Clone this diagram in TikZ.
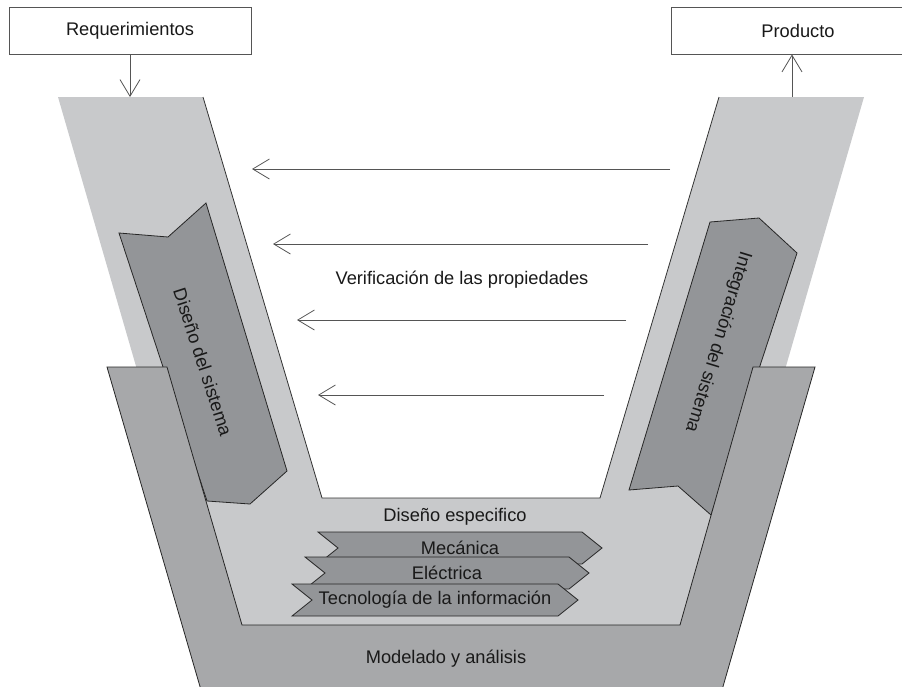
\documentclass[tikz,border=0pt]{standalone}
\usepackage{fontspec}
\setmainfont{Liberation Sans}
\usetikzlibrary{arrows.meta}
\definecolor{vclaro}{RGB}{200,201,203}
\definecolor{vmedio}{RGB}{167,168,170}
\definecolor{voscuro}{RGB}{147,149,152}
\definecolor{vlinea}{RGB}{85,85,85}
\tikzstyle{rotulo} = [font=\fontsize{13.7}{16}\selectfont, text=black!90, inner sep=0pt]
\tikzstyle{caja} = [rotulo, draw=vlinea, fill=white, line width=0.7pt, minimum height=35.25pt]
\tikzstyle{flecha} = [draw=vlinea, line width=0.6pt, -{Straight Barb[length=12.5pt,width=15pt]}]
\tikzstyle{pieza} = [draw=black!85, fill=voscuro, line width=0.6pt]
\newcommand{\banda}[5]{\draw[pieza] (#2,#3) -- (#4,#3) -- (#4+20,#3+16) -- (#4,#3+32) -- (#2,#3+32) -- (#2+20,#3+16) -- cycle;%
	\node[rotulo] (#1) at ({(#2+#4+20)/2},#3+16) {#5};}

\begin{document}
\begin{tikzpicture}[x=0.75pt, y=-0.75pt]%
			\useasboundingbox (0,0) rectangle (902,686);%
			\clip (0,0) rectangle (902,686);%
			% brazos y fondo claro
			\fill[vclaro] (58,97) -- (203,97) -- (322,498) -- (600,498) -- (719,97) -- (864,97) -- (711,625) -- (211,625) -- cycle;%
			\draw[black!80, line width=0.6pt] (203,97) -- (322,498) -- (600,498) -- (719,97);%
			% diseno e integracion
			\draw[pieza] (119,233) -- (168,237) -- (206,203) -- (287,471) -- (250,504) -- (207,501) -- cycle;%
			\draw[pieza] (710,222) -- (759,218) -- (797,253) -- (711,515) -- (678,486) -- (629,490) -- cycle;%
			\node[rotulo, rotate=-72] (dis) at (203,362) {Diseño del sistema};%
			\node[rotulo, rotate=-107] (int) at (718,342) {Integración del sistema};%
			% modelado y analisis
			\draw[black!85, fill=vmedio, line width=0.6pt] (107,367) -- (167,367) -- (242,625) -- (680,625) -- (753,367) -- (815,367) -- (722,690) -- (201,690) -- cycle;%
			\node[rotulo] (mod) at (446,659) {Modelado y análisis};%
			% diseno especifico
			\node[rotulo] (esp) at (455,517) {Diseño especifico};%
			\banda{mec}{318}{532}{582}{Mecánica}%
			\banda{ele}{305}{557}{569}{Eléctrica}%
			\banda{tec}{292}{584}{558}{Tecnología de la información}%
			% verificacion
			\node[rotulo] (ver) at (462,280) {Verificación de las propiedades};%
			\foreach \y/\xa/\xb [count=\i] in {169/670/252, 244/648/273, 320/626/297, 395/604/318} {%
				\coordinate (vs\i) at (\xa,\y);%
				\coordinate (ve\i) at (\xb,\y);%
				\draw[flecha] (vs\i) -- (ve\i);%
			}%
			% entrada y salida
			\node[caja, minimum width=181.5pt] (req) at (130,30.5) {Requerimientos};%
			\node[caja, minimum width=190.5pt] (prod) at (798,30.5) {Producto};%
			\coordinate (reqin) at (130,97);%
			\coordinate (prodout) at (792,97);%
			\draw[flecha] (req.south) -- (reqin);%
			\draw[flecha] (prodout) -- (prodout |- prod.south);%
		\end{tikzpicture}
\end{document}
